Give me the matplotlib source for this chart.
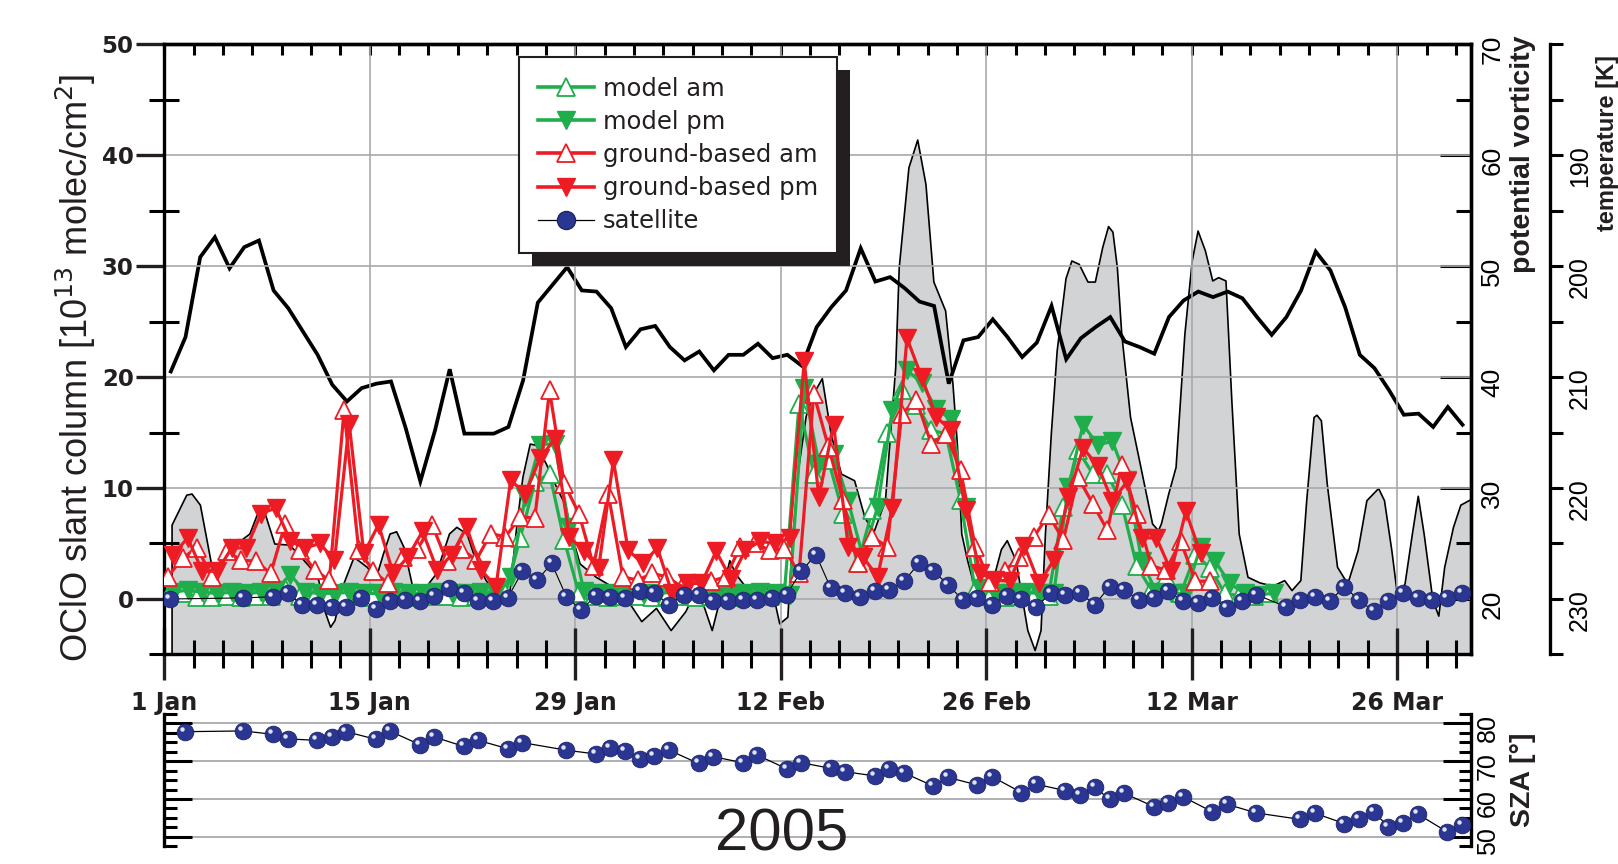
import numpy as np
import matplotlib
matplotlib.use("Agg")
import matplotlib.pyplot as plt
from matplotlib.lines import Line2D
from matplotlib.patches import Rectangle
from matplotlib.ticker import MultipleLocator, FixedLocator
from matplotlib import transforms

plt.rcParams["font.family"] = ["Liberation Sans", "DejaVu Sans"]
plt.rcParams["mathtext.fontset"] = "custom"
plt.rcParams["mathtext.rm"] = "Liberation Sans Narrow"
NARROW = ["Liberation Sans Narrow", "Liberation Sans", "DejaVu Sans"]
HEAVY = ["DejaVu Sans"]

# ---- data (day 0 = 1 Jan 2005) ----
model_am = [0.3, 0.5, 0.2, 0.2, 0.3, 0.2, 0.3, 0.3, 1.0, 0.3,
            0.3, 0.2, 0.3, 0.3, 0.2, 0.3, 0.3, 0.2, 0.3, 0.3,
            0.2, 0.3, 0.3, 0.5, 5.5, 10.5, 11.3, 5.3, 0.5, 0.3,
            0.2, 0.3, 0.3, 0.2, 0.3, 0.3, 0.2, 0.3, 0.3, 0.2,
            0.3, 0.3, 0.5, 17.6, 11.3, 12.5, 7.7, 3.2, 8.0, 15.0,
            18.8, 17.5, 15.2, 14.9, 8.9, 0.8, 0.3, 0.2, 0.3, 0.3,
            0.3, 8.3, 13.4, 11.3, 11.3, 8.5, 3.0, 0.8, 2.0, 0.5,
            4.0, 2.8, 0.5, 0.3, 0.3, 0.5]
model_pm = [0.6, 0.8, 0.6, 0.5, 0.6, 0.5, 0.6, 0.8, 2.2, 0.6,
            0.5, 0.5, 0.6, 0.5, 0.5, 0.6, 0.5, 0.5, 0.6, 0.5,
            0.5, 0.6, 0.5, 2.0, 9.2, 13.9, 14.0, 6.5, 0.7, 0.5,
            0.5, 0.6, 0.5, 0.5, 0.6, 0.5, 0.5, 0.6, 0.5, 0.5,
            0.6, 0.5, 0.4, 19.0, 12.2, 13.1, 8.8, 3.8, 8.3, 17.0,
            20.6, 19.5, 17.1, 16.2, 8.3, 1.0, 0.5, 0.5, 0.6, 0.5,
            0.5, 10.1, 15.7, 13.9, 14.2, 10.7, 3.4, 0.6, 0.5, 0.5,
            4.7, 3.4, 1.4, 0.5, 0.4, 0.5]
ground_am = [2.0, 3.7, 4.6, 2.0, 4.3, 3.5, 3.4, 2.3, 6.8, 4.4,
             2.6, 1.7, 17.0, 4.4, 2.5, 1.4, 3.8, 4.5, 6.7, 3.4,
             4.5, 3.5, 5.9, 5.6, 7.4, 7.3, 18.8, 10.4, 7.7, 3.0,
             9.5, 2.0, 1.7, 2.3, 2.0, 1.1, 1.0, 1.6, 2.0, 4.7,
             5.0, 4.4, 4.5, 2.3, 18.5, 13.7, 8.9, 3.2, 5.6, 4.7,
             16.7, 17.9, 14.0, 14.9, 11.6, 4.7, 1.5, 2.5, 3.8, 5.6,
             7.6, 5.3, 11.0, 8.6, 6.2, 12.1, 7.7, 3.0, 2.6, 5.2,
             1.6, 1.6]
ground_pm = [4.0, 5.5, 2.5, 2.5, 4.6, 4.6, 7.7, 8.2, 5.2, 4.6,
             5.0, 3.5, 15.8, 4.1, 6.7, 2.3, 3.8, 6.1, 2.6, 4.0,
             6.5, 2.6, 1.1, 10.7, 9.5, 12.7, 14.4, 5.6, 4.3, 2.8,
             12.5, 4.4, 3.2, 4.6, 0.5, 1.4, 1.4, 4.3, 1.8, 4.4,
             5.2, 5.0, 5.5, 21.4, 9.2, 15.7, 4.7, 3.8, 2.0, 8.2,
             23.5, 20.0, 16.4, 15.2, 8.0, 2.3, 1.7, 1.6, 4.8, 1.4,
             3.5, 9.2, 13.6, 12.0, 8.8, 10.6, 5.5, 5.5, 2.5, 7.9,
             4.1]

sat_day = [0, 5, 7, 8, 9, 10, 11, 12, 13, 14, 15, 16, 17, 18, 19, 20, 21, 22,
           23, 24, 25, 26, 27, 28, 29, 30, 31, 32, 33, 34, 35, 36, 37, 38, 39,
           40, 41, 42, 43, 44, 45, 46, 47, 48, 49, 50, 51, 52, 53, 54, 55, 56,
           57, 58, 59, 60, 61, 62, 63, 64, 65, 66, 67, 68, 69, 70, 71, 72, 73,
           74, 76, 77, 78, 79, 80, 81, 82, 83, 84, 85, 86, 87, 88]
sat_oclo = [0.0, 0.1, 0.2, 0.5, -0.5, -0.5, -0.7, -0.7, 0.1, -0.9, -0.2, -0.1,
            -0.2, 0.3, 1.0, 0.5, -0.2, -0.2, 0.1, 2.5, 1.7, 3.2, 0.2, -1.0,
            0.3, 0.2, 0.1, 0.7, 0.5, -0.5, 0.4, 0.4, -0.2, -0.2, -0.1, -0.1,
            0.1, 0.4, 2.5, 4.0, 1.0, 0.5, 0.2, 0.7, 0.8, 1.6, 3.2, 2.5, 1.3,
            -0.1, 0.1, -0.5, 0.3, 0.0, -0.7, 0.5, 0.4, 0.5, -0.5, 1.1, 0.8,
            -0.1, 0.1, 0.7, -0.2, -0.4, 0.1, -0.8, -0.2, 0.4, -0.7, -0.1, 0.2,
            -0.2, 1.1, -0.1, -1.1, -0.2, 0.5, 0.1, -0.1, 0.1, 0.5]

sza_day = [1, 5, 7, 8, 10, 11, 12, 14, 15, 17, 18, 20, 21, 23, 24, 27, 29, 30,
           31, 32, 33, 34, 36, 37, 39, 40, 42, 43, 45, 46, 48, 49, 50, 52, 53,
           55, 56, 58, 59, 61, 62, 63, 64, 65, 67, 68, 69, 71, 72, 74, 77, 78,
           80, 81, 82, 83, 84, 85, 87, 88]
sza = [77.8, 78.0, 77.1, 75.9, 75.5, 76.3, 77.8, 75.8, 77.9, 74.4, 76.4, 73.9,
       75.5, 73.3, 74.9, 72.9, 71.9, 73.6, 72.7, 70.7, 71.4, 72.9, 69.4, 71.2,
       69.6, 71.6, 68.0, 69.6, 68.1, 67.2, 66.1, 67.8, 66.9, 63.4, 65.7, 63.7,
       65.9, 61.7, 63.9, 62.2, 61.1, 63.1, 59.9, 61.5, 58.0, 59.0, 60.6, 56.6,
       58.6, 56.3, 54.6, 56.2, 53.5, 54.8, 56.6, 52.6, 53.7, 56.0, 51.3, 53.1]

# potential vorticity, daily
pv = [40.5, 43.6, 50.8, 52.6, 49.8, 51.7, 52.3, 47.8, 46.2, 44.1,
      42.0, 39.3, 37.8, 39.0, 39.4, 39.6, 35.4, 30.6, 35.2, 40.7,
      34.9, 34.9, 34.9, 35.5, 39.7, 46.7, 48.3, 49.9, 47.8, 47.7,
      46.2, 42.7, 44.3, 44.6, 42.7, 41.5, 42.3, 40.6, 42.0, 42.0,
      43.0, 41.7, 42.0, 41.0, 44.5, 46.3, 47.8, 51.6, 48.6, 49.0,
      48.0, 46.8, 46.4, 39.4, 43.3, 43.6, 45.2, 43.6, 41.8, 43.1,
      46.4, 41.6, 43.5, 44.5, 45.4, 43.2, 42.7, 42.1, 45.4, 46.9,
      47.7, 47.2, 47.7, 47.1, 45.4, 43.8, 45.4, 47.8, 51.3, 49.6,
      46.3, 42.0, 40.8, 38.8, 36.6, 36.7, 35.5, 37.3, 35.7]

# temperature [K]
t_day = [0.5, 1.5, 1.86, 2.43, 3.2, 3.8, 4.47, 4.9, 5.8, 6.3, 6.85, 7.5, 8.5,
         9.1, 9.9, 10.5, 10.9, 11.3, 11.6, 12.2, 12.9, 13.8, 14.4, 14.9, 15.35,
         15.8, 16.3, 16.9, 17.4, 17.8, 18.5, 19.4, 19.9, 20.6, 21.2, 21.9, 22.8,
         23.5, 24.0, 24.4, 24.9, 25.3, 26.0, 26.7, 27.3, 27.8, 28.3, 29.4, 30.55,
         31.5, 32.5, 33.5, 34.5, 35.5, 36.3, 37.3, 38.5, 38.9, 39.6, 40.5, 41.4,
         41.9, 42.45, 42.8, 43.2, 43.7, 44.2, 44.8, 45.4, 46.1, 47.0, 47.7, 48.3,
         49.1, 49.8, 50.04, 50.7, 51.3, 51.86, 52.4, 53.2, 53.7, 54.0, 54.3,
         54.7, 55.2, 56.0, 56.5, 57.0, 57.4, 58.0, 58.8, 59.3, 59.7, 60.0, 60.4,
         60.8, 61.4, 61.8, 62.3, 62.9, 63.4, 63.9, 64.3, 64.6, 64.9, 65.2, 65.8,
         66.6, 67.3, 67.7, 67.9, 68.4, 68.9, 69.5, 70.0, 70.4, 70.9, 71.4, 71.8,
         72.3, 72.7, 73.2, 73.8, 74.6, 75.5, 76.3, 76.8, 77.4, 77.8, 78.3, 78.5,
         78.8, 79.2, 79.9, 80.6, 81.3, 81.9, 82.7, 83.1, 83.6, 84.0, 84.5, 85.0,
         85.4, 85.8, 86.4, 86.8, 87.2, 87.8, 88.3, 89.0]
temp = [223.3, 220.6, 220.5, 221.5, 226.9, 227.1, 224.6, 225.0, 224.1, 222.4,
        222.3, 225.0, 225.1, 225.9, 227.1, 228.3, 231.0, 232.5, 231.9, 228.6,
        226.2, 227.1, 228.1, 225.9, 224.1, 223.9, 225.3, 228.9, 228.7, 228.9,
        227.7, 224.1, 223.5, 224.1, 226.5, 228.3, 229.8, 229.5, 223.2, 219.0,
        216.0, 216.1, 217.8, 219.9, 221.5, 224.5, 226.8, 228.0, 228.9, 230.0,
        232.0, 230.8, 232.8, 231.1, 228.9, 232.8, 226.5, 227.7, 228.9, 228.75,
        229.2, 232.2, 231.6, 224.1, 218.1, 213.5, 211.5, 210.1, 215.1, 218.7,
        219.3, 222.6, 224.0, 221.1, 209.1, 200.1, 191.1, 188.6, 192.6, 201.4,
        204.0, 210.6, 216.0, 224.1, 226.5, 229.0, 230.5, 228.0, 225.5, 224.7,
        226.5, 232.8, 234.6, 232.8, 224.1, 215.1, 207.6, 201.1, 199.5, 199.8,
        201.4, 201.4, 198.3, 196.4, 196.9, 200.1, 206.1, 213.6, 218.7, 223.2,
        223.8, 223.2, 220.5, 218.1, 206.1, 199.5, 196.8, 198.6, 201.3, 201.0,
        201.3, 212.1, 224.1, 228.0, 228.5, 228.8, 228.3, 229.2, 228.3, 221.1,
        213.6, 213.4, 213.9, 219.6, 227.1, 228.6, 225.6, 221.1, 220.0, 221.1,
        225.6, 229.8, 228.6, 224.1, 220.7, 224.1, 230.1, 231.5, 227.1, 223.5,
        221.5, 221.0]

date_ticks = [0, 14, 28, 42, 56, 70, 84]
date_labels = ["1 Jan", "15 Jan", "29 Jan", "12 Feb", "26 Feb", "12 Mar", "26 Mar"]

GREEN = "#1fae4b"
RED = "#ed1c24"
BLUE = "#2b3692"
GRAY = "#d1d3d4"
GRID = "#a7a9ac"
INK = "#231f20"

fig = plt.figure(figsize=(16.18, 8.64), dpi=100)
fig.patch.set_facecolor("white")

ax = fig.add_axes([0.1015, 0.2425, 0.8074, 0.7065])
ax_t = ax.twinx()
ax_pv = ax.twinx()
ax.set_zorder(3)
ax_pv.set_zorder(2)
ax_t.set_zorder(1)
ax.patch.set_visible(False)

# temperature as grey area (inverted axis)
ax_t.fill_between(t_day, temp, 235, facecolor=GRAY, edgecolor="black", linewidth=1.2)
ax_t.set_ylim(235, 180)
ax_t.spines["right"].set_position(("axes", 1.0608))
for s in ["left", "top", "bottom"]:
    ax_t.spines[s].set_visible(False)
ax_t.spines["right"].set_linewidth(2.4)
ax_t.yaxis.set_major_locator(FixedLocator([190, 200, 210, 220, 230]))
ax_t.yaxis.set_minor_locator(MultipleLocator(5))
ax_t.tick_params(axis="y", which="both", direction="out", length=9, width=2.2,
                 pad=4, labelsize=18, labelrotation=90)
for lab in ax_t.get_yticklabels():
    lab.set_family(NARROW)

# potential vorticity
pv_x = np.arange(len(pv)) + 0.45
ax_pv.plot(pv_x, pv, color="black", linewidth=2.7, solid_joinstyle="miter")
ax_pv.set_ylim(15, 70)
for s in ["left", "top", "bottom"]:
    ax_pv.spines[s].set_visible(False)
ax_pv.spines["right"].set_linewidth(2.4)
ax_pv.yaxis.set_major_locator(MultipleLocator(10))
ax_pv.yaxis.set_minor_locator(MultipleLocator(5))
ax_pv.tick_params(axis="y", which="major", direction="in", length=22, width=2.2,
                  pad=7, labelsize=19, labelrotation=90)
ax_pv.tick_params(axis="y", which="minor", direction="in", length=11, width=2.2)
for lab in ax_pv.get_yticklabels():
    lab.set_family(NARROW)

# OClO series
lw = 2.3
ms = 12.5
d_model = np.arange(len(model_am))
d_ground = np.arange(len(ground_am))
d_ground_pm = np.arange(len(ground_pm))
ax.plot(d_model + 0.25, model_am, color=GREEN, lw=lw, marker="^", ms=ms,
        mfc="white", mec=GREEN, mew=1.3, zorder=3)
ax.plot(d_model + 0.6, model_pm, color=GREEN, lw=lw, marker="v", ms=ms,
        mfc=GREEN, mec=GREEN, zorder=3)
ax.plot(d_ground + 0.25, ground_am, color=RED, lw=lw, marker="^", ms=ms,
        mfc="white", mec=RED, mew=1.3, zorder=4)
ax.plot(d_ground_pm + 0.6, ground_pm, color=RED, lw=lw, marker="v", ms=ms,
        mfc=RED, mec=RED, zorder=4)

sat_x = np.array(sat_day) + 0.4
ax.plot(sat_x, sat_oclo, color="black", lw=0.8, zorder=5)
ax.plot(sat_x, sat_oclo, ls="none", marker="o", ms=12, mfc=BLUE, mec="#1c2468",
        mew=0.6, zorder=6)
hl = transforms.offset_copy(ax.transData, fig=fig, x=-3, y=3, units="dots")
ax.plot(sat_x, sat_oclo, ls="none", marker="o", ms=3.2, mfc="#dfe4f7", mec="none",
        transform=hl, zorder=7)

ax.set_xlim(0, 89)
ax.set_ylim(-5, 50)
ax.xaxis.set_major_locator(FixedLocator(date_ticks))
ax.xaxis.set_minor_locator(MultipleLocator(2))
ax.set_xticklabels(date_labels)
ax.yaxis.set_minor_locator(FixedLocator([-5, 5, 15, 25, 35, 45]))
ax.set_yticks([0, 10, 20, 30, 40, 50])
ax.tick_params(axis="x", which="major", direction="inout", length=38, width=2.4,
               pad=7, labelsize=17, top=False, colors=INK)
ax.tick_params(axis="x", which="minor", direction="inout", length=20, width=2.2,
               top=False)
ax.tick_params(axis="y", which="major", direction="out", length=20, width=2.4,
               pad=2, labelsize=16.5, right=False, colors=INK)
ax.tick_params(axis="y", which="minor", direction="inout", length=22, width=2.2,
               right=False)
for lab in ax.get_xticklabels() + ax.get_yticklabels():
    lab.set_fontweight("bold")
    lab.set_family(HEAVY)
for s in ax.spines.values():
    s.set_linewidth(2.4)
ax.grid(True, which="major", color=GRID, linewidth=1.2)
for gl in ax.get_xgridlines() + ax.get_ygridlines():
    gl.set_zorder(1)

top = ax.secondary_xaxis("top")
top.set_xticks(np.arange(0, 89, 2))
top.set_xticklabels([])
top.tick_params(direction="in", length=8, width=2.2)
top.spines["top"].set_linewidth(2.4)

# legend
handles = [
    Line2D([], [], color=GREEN, lw=2.6, marker="^", ms=13, mfc="white", mec=GREEN, mew=1.3),
    Line2D([], [], color=GREEN, lw=2.6, marker="v", ms=13, mfc=GREEN, mec=GREEN),
    Line2D([], [], color=RED, lw=2.6, marker="^", ms=13, mfc="white", mec=RED, mew=1.3),
    Line2D([], [], color=RED, lw=2.6, marker="v", ms=13, mfc=RED, mec=RED),
    Line2D([], [], color="black", lw=0.9, marker="o", ms=13, mfc=BLUE, mec="#1c2468"),
]
labels = ["model am", "model pm", "ground-based am", "ground-based pm", "satellite"]
leg = ax.legend(handles, labels, loc="upper left", bbox_to_anchor=(0.2715, 0.9787),
                borderaxespad=0, fancybox=False, framealpha=1, edgecolor=INK,
                prop={"family": "DejaVu Sans", "size": 17.5}, handlelength=2.3,
                handletextpad=0.35, labelspacing=0.38, borderpad=0.8)
leg.get_frame().set_linewidth(1.5)
for txt in leg.get_texts():
    txt.set_color(INK)
leg.set_zorder(20)

# SZA panel
ax_s = fig.add_axes([0.1015, 0.0206, 0.8074, 0.1531])
ax_s.patch.set_visible(False)
sza_x = np.array(sza_day) + 0.4
ax_s.plot(sza_x, sza, color="black", lw=0.9, zorder=3)
ax_s.plot(sza_x, sza, ls="none", marker="o", ms=12, mfc=BLUE,
          mec="#1c2468", mew=0.6, zorder=4)
hl_s = transforms.offset_copy(ax_s.transData, fig=fig, x=-3, y=3, units="dots")
ax_s.plot(sza_x, sza, ls="none", marker="o", ms=3.2, mfc="#dfe4f7",
          mec="none", transform=hl_s, zorder=5)
ax_s.set_xlim(0, 89)
ax_s.set_ylim(47.5, 82.5)
ax_s.set_xticks([])
for s in ["top", "bottom"]:
    ax_s.spines[s].set_visible(False)
for s in ["left", "right"]:
    ax_s.spines[s].set_linewidth(2.4)
ax_s.yaxis.set_major_locator(FixedLocator([50, 60, 70, 80]))
ax_s.yaxis.set_minor_locator(MultipleLocator(2.5))
ax_s.tick_params(axis="y", which="major", direction="in", length=20, width=2.2,
                 left=True, right=True, labelleft=False, labelright=True,
                 labelsize=18, labelrotation=90, pad=4)
ax_s.tick_params(axis="y", which="minor", direction="in", length=9, width=2.2,
                 left=True, right=True)
for lab in ax_s.get_yticklabels():
    lab.set_family(NARROW)
ax_s.grid(True, axis="y", which="major", color=GRID, linewidth=1.3)

# titles
fig.text(0.047, 0.574, "OClO slant column [10$^{13}$ molec/cm$^2$]", rotation=90,
         ha="center", va="center", fontsize=26, family=NARROW, color=INK)
fig.text(0.941, 0.822, "potential vorticity", rotation=90, ha="center", va="center",
         fontsize=20.5, fontweight="bold", color=INK)
fig.text(0.9935, 0.834, "temperature [K]", rotation=90, ha="center", va="center",
         fontsize=17, fontweight="bold", color=INK)
fig.text(0.941, 0.098, "SZA [°]", rotation=90, ha="center", va="center",
         fontsize=20.5, fontweight="bold", color=INK)
fig.text(0.483, 0.002, "2005", ha="center", va="bottom", fontsize=43,
         family=NARROW, color=INK)

# black drop shadow behind legend
fig.canvas.draw()
bb = leg.get_window_extent()
shadow = Rectangle((bb.x0 + 13, bb.y0 - 13), bb.width, bb.height,
                   transform=transforms.IdentityTransform(), facecolor=INK,
                   edgecolor="none", zorder=19, clip_on=False)
ax.add_artist(shadow)

fig.savefig("out.png", dpi=100)
